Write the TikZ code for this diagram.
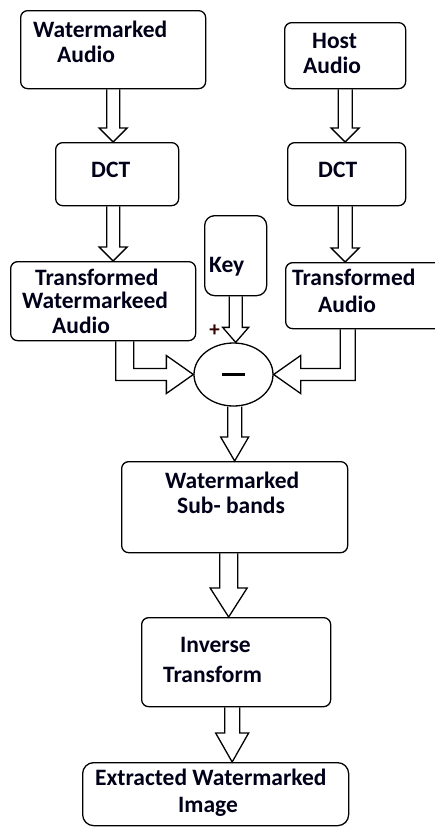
\documentclass[tikz,border=0pt]{standalone}
\usepackage{fontspec}
\setmainfont{Carlito}
\usetikzlibrary{calc,shapes.geometric}
\tikzset{
  box/.style={draw, rounded corners=7pt, line width=1.3pt, inner sep=0pt, anchor=north west},
  txt/.style={anchor=base west, inner sep=0pt, font=\fontsize{23.5}{25}\selectfont\bfseries, text=black!90!blue},
  arr/.style={draw, line width=1.3pt, line join=miter}
}
\newcommand\blockdown[5]{%
  \draw[arr] let \p1=#1, \p2=#2 in
   (\x1-#3pt,\y1) -- (\x1-#3pt,\y2+#5pt) -- (\x1-#4pt,\y2+#5pt) -- (\x1,\y2)
   -- (\x1+#4pt,\y2+#5pt) -- (\x1+#3pt,\y2+#5pt) -- (\x1+#3pt,\y1);}
\begin{document}
\begin{tikzpicture}[x=1pt,y=-1pt]
\useasboundingbox (0,0) rectangle (435,828);
% boxes
\node[box, minimum width=185, minimum height=78] (wa) at (20,10) {};
\node[box, minimum width=121, minimum height=66] (ha) at (284,22) {};
\node[box, minimum width=123, minimum height=63] (dctL) at (55,142) {};
\node[box, minimum width=118, minimum height=63] (dctR) at (287,142) {};
\node[box, rounded corners=10pt, minimum width=62, minimum height=80] (key) at (204,215) {};
\node[box, minimum width=185, minimum height=79] (twa) at (10,261) {};
\node[box, minimum width=160, minimum height=66] (ta) at (285,262) {};
\node[box, minimum width=226, minimum height=91] (sub) at (121,461) {};
\node[box, minimum width=189, minimum height=89] (inv) at (141,617) {};
\node[box, rounded corners=11pt, minimum width=266, minimum height=63] (ext) at (82,762) {};
\node[draw, ellipse, line width=1.3pt, minimum width=79, minimum height=63, inner sep=0pt] (ell) at (233.5,374.5) {\rule[-1.5pt]{23pt}{3pt}};
% texts
\node[txt] (t1) at (33,37) {Watermarked};
\node[txt] (t2) at (57,62) {Audio};
\node[txt] (t3) at (312,48) {Host};
\node[txt] (t4) at (303,73) {Audio};
\node[txt] (t5) at (91,177) {DCT};
\node[txt] (t6) at (318,177) {DCT};
\node[txt] (t7) at (209,272) {Key};
\node[txt] (t8) at (35,285) {Transformed};
\node[txt] (t9) at (22,308) {Watermarkeed};
\node[txt] (t10) at (52,333) {Audio};
\node[txt] (t11) at (292,285) {Transformed};
\node[txt] (t12) at (318,312) {Audio};
\node[txt] (t13) at (165,488) {Watermarked};
\node[txt] (t14) at (177,513) {Sub- bands};
\node[txt] (t15) at (180,652) {Inverse};
\node[txt] (t16) at (163,682) {Transform};
\node[txt] (t17) at (95,785) {Extracted Watermarked};
\node[txt] (t18) at (178,812) {Image};
\node[anchor=center, inner sep=0pt, font=\fontsize{21}{21}\selectfont\bfseries, text=black!80!red] (plus) at (214.5,331) {+};
% vertical arrows
\blockdown{(wa.south)}{(wa.south |- dctL.north)}{6.5}{14}{14}
\blockdown{(ha.south)}{(ha.south |- dctR.north)}{7}{14}{14}
\blockdown{(wa.south |- dctL.south)}{(wa.south |- twa.north)}{6.5}{14}{14}
\blockdown{(ha.south |- dctR.south)}{(ha.south |- ta.north)}{7}{14}{14}
\blockdown{(key.south)}{(key.south |- ell.north)}{6.5}{13}{15}
\blockdown{(sub.north |- ell.south)}{(sub.north)}{7}{14}{24}
\blockdown{([xshift=-6pt]sub.south)}{([xshift=-6pt]sub.south |- inv.north)}{9}{18.5}{29}
\blockdown{([xshift=-4pt]inv.south)}{([xshift=-4pt]inv.south |- ext.north)}{7.5}{16.5}{29}
% bent arrows
\draw[arr] let \p1=([xshift=21.5pt]twa.south), \p2=(ell.west) in
  (\x1-9pt,\y1) -- (\x1-9pt,\y2-6pt) -- (\x2-27pt,\y2-6pt) -- (\x2-27pt,\y2-19pt) -- (\x2,\y2)
  -- (\x2-27pt,\y2+19pt) -- (\x2-27pt,\y2+6pt) -- (\x1+9pt,\y2+6pt) -- (\x1+9pt,\y1);
\draw[arr] let \p1=([xshift=-18pt]ta.south), \p2=(ell.east) in
  (\x1+7.5pt,\y1) -- (\x1+7.5pt,\y2-6pt) -- (\x2+27pt,\y2-6pt) -- (\x2+27pt,\y2-19pt) -- (\x2,\y2)
  -- (\x2+27pt,\y2+19pt) -- (\x2+27pt,\y2+6pt) -- (\x1-7.5pt,\y2+6pt) -- (\x1-7.5pt,\y1);
\end{tikzpicture}
\end{document}
